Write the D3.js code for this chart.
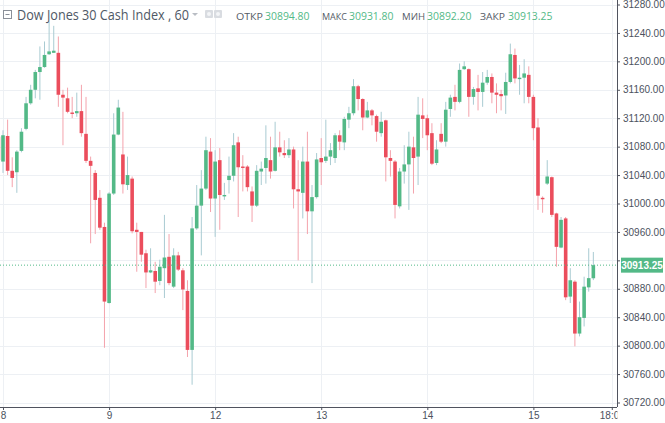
<!DOCTYPE html>
<html>
<head>
<meta charset="utf-8">
<script src="https://cdn.jsdelivr.net/npm/d3@7/dist/d3.min.js"></script>
<style>
html,body{margin:0;padding:0;background:#fff;}
svg{display:block;}
</style>
</head>
<body>
<svg id="chart" width="665" height="423"></svg>
<script>
// ---- data (hourly candles, index 0 is the partially visible first bar) ----
const openV = [
31094,31059,31095,31046,31044,31074,31105,31141,31160,31185,
31192,31210,31212,31212,31153,31148,31128,31127,31130,31098,
31060,31043,31008,30967,30860,31014,31097,31069,31026,31035,
30963,30960,30930,30903,30905,30891,30909,30925,30883,30927,
30906,30877,30794,30965,30997,31021,31073,31007,31061,31010,
31033,31039,31086,31052,31052,31017,30997,31045,31050,31061,
31046,31079,31071,31068,31076,31020,31015,31059,30989,31009,
31064,31060,31066,31064,31096,31086,31118,31127,31165,31147,
31121,31131,31123,31099,31117,31064,31059,30996,31045,31055,
31079,31066,31124,31120,31099,31057,31098,31087,31133,31150,
31143,31189,31189,31150,31162,31157,31170,31178,31156,31154,
31152,31171,31209,31175,31177,31181,31150,31107,31008,31028,
31037,30986,30938,30979,30869,30890,30817,30839,30882,30894.80
];
const highV = [
31103,31103,31118,31065,31075,31106,31150,31167,31188,31221,
31228,31256,31250,31235,31160,31163,31150,31156,31167,31150,
31066,31047,31019,30973,31016,31127,31146,31129,31066,31038,
30973,30960,30935,30937,30918,30921,30984,30957,30937,30932,
30909,30892,30981,31026,31047,31094,31092,31075,31078,31029,
31066,31099,31094,31068,31054,31024,31054,31059,31110,31094,
31115,31101,31089,31092,31080,31061,31080,31101,31026,31071,
31092,31118,31085,31099,31103,31122,31136,31175,31167,31148,
31143,31133,31125,31129,31118,31075,31061,31050,31082,31101,
31094,31150,31148,31125,31113,31089,31113,31143,31153,31167,
31197,31200,31190,31164,31181,31185,31188,31183,31169,31160,
31184,31225,31218,31195,31203,31193,31153,31120,31010,31061,
31038,30987,30981,30981,30909,30892,30862,30897,30937,30931.80
];
const lowV = [
31050,31043,31040,31023,31015,31072,31103,31139,31148,31146,
31191,31209,31212,31136,31082,31127,31120,31122,31094,31057,
30944,30957,30963,30797,30859,31012,31096,31014,31019,30958,
30904,30918,30881,30902,30874,30885,30867,30885,30881,30905,
30850,30784,30745,30963,30927,31019,30988,30953,30963,31005,
31014,31031,30981,31017,31017,30974,30995,31026,31028,31035,
31045,31066,31064,31064,30993,30920,30979,30957,30888,31007,
31026,31057,31054,31057,31075,31075,31106,31124,31131,31103,
31120,31110,31087,31094,31031,31038,30979,30993,31028,30991,
31014,31026,31092,31075,31054,31054,31085,31080,31122,31131,
31141,31188,31122,31139,31131,31136,31167,31141,31127,31131,
31126,31169,31169,31153,31141,31141,31089,30991,30987,31026,
30981,30911,30937,30864,30860,30799,30813,30827,30876,30892.20
];
const closeV = [
31061,31096,31046,31036,31073,31101,31141,31160,31185,31192,
31209,31214,31215,31153,31149,31129,31126,31130,31099,31060,
31053,31005,30966,30862,31014,31097,31135,31027,31040,30961,
30960,30928,30903,30906,30890,30911,30924,30888,30927,30907,
30879,30794,30965,30997,31021,31075,31007,31059,31012,31012,
31039,31082,31051,31050,31023,30997,31046,31049,31064,31045,
31079,31072,31068,31076,31020,31017,31059,30989,31009,31062,
31058,31066,31075,31096,31087,31119,31127,31165,31147,31121,
31131,31124,31101,31115,31065,31060,30998,31045,31055,31080,
31064,31125,31119,31096,31056,31076,31087,31132,31149,31143,
31188,31193,31150,31161,31157,31170,31178,31156,31153,31151,
31171,31210,31176,31177,31183,31150,31106,31011,31006,31038,
30984,30939,30977,30868,30892,30817,30840,30883,30895,30913.25
];
const dayLabels = ["8","9","12","13","14","15","18:00"];
const dayIndex  = [1,24,47,70,93,116,133];
const priceTicks = [30720,30760,30800,30840,30880,30920,30960,31000,31040,31080,31120,31160,31200,31240,31280];
const headerTitle = "Dow Jones 30 Cash Index , 60";
const headerLabels = ["ОТКР","МАКС","МИН","ЗАКР"];
const headerValues = ["30894.80","30931.80","30892.20","30913.25"];
const lastPrice = 30913.25;

// ---- layout ----
const W = 665, H = 423;
const plotRight = 617, plotBottom = 407;
const UP = "#53b987", DOWN = "#eb4d5c";
const UPWICK = "#a9cbd2", DOWNWICK = "#f4a3ac";
const GRID = "#edf0f4", AXIS = "#50535e", TXT = "#4c525e";
const FONT = "Arial, 'Liberation Sans', sans-serif";

const candles = openV.map((o,i)=>({i, o, h:highV[i], l:lowV[i], c:closeV[i]}));

const x = d3.scaleLinear().domain([0.349, 134.13]).range([0, plotRight]);
const y = d3.scaleLinear().domain([30720, 31280]).range([402.5, 4.5]);

const svg = d3.select("#chart");
svg.append("rect").attr("width",W).attr("height",H).attr("fill","#fff");

const defs = svg.append("defs");
defs.append("clipPath").attr("id","plotclip")
  .append("rect").attr("x",0).attr("y",0).attr("width",plotRight).attr("height",plotBottom);

// grid
const grid = svg.append("g").attr("clip-path","url(#plotclip)");
grid.selectAll("line.h").data(priceTicks).join("line")
  .attr("x1",0).attr("x2",plotRight)
  .attr("y1",d=>Math.round(y(d))+0.5).attr("y2",d=>Math.round(y(d))+0.5)
  .attr("stroke",GRID).attr("stroke-width",1);
grid.selectAll("line.v").data(dayIndex).join("line")
  .attr("y1",0).attr("y2",plotBottom)
  .attr("x1",d=>Math.round(x(d))+0.5).attr("x2",d=>Math.round(x(d))+0.5)
  .attr("stroke",GRID).attr("stroke-width",1);

// candles
const plot = svg.append("g").attr("clip-path","url(#plotclip)");
const bw = 3.6;
plot.selectAll("line.wick").data(candles).join("line")
  .attr("x1",d=>x(d.i)).attr("x2",d=>x(d.i))
  .attr("y1",d=>y(d.h)).attr("y2",d=>y(d.l))
  .attr("stroke",d=>d.c>=d.o?UPWICK:DOWNWICK).attr("stroke-width",1);
plot.selectAll("rect.body").data(candles).join("rect")
  .attr("x",d=>x(d.i)-bw/2).attr("width",bw)
  .attr("y",d=>y(Math.max(d.o,d.c)))
  .attr("height",d=>Math.max(1.2, Math.abs(y(d.o)-y(d.c))))
  .attr("fill",d=>d.c>=d.o?UP:DOWN);

// last price dotted line
plot.append("line")
  .attr("x1",0).attr("x2",plotRight)
  .attr("y1",y(lastPrice)).attr("y2",y(lastPrice))
  .attr("stroke",UP).attr("stroke-width",1).attr("stroke-dasharray","1,2");

// right axis
const yAxis = d3.axisRight(y).tickValues(priceTicks).tickSize(3).tickPadding(3)
  .tickFormat(d=>d3.format(".2f")(d));
const ya = svg.append("g").attr("transform",`translate(${plotRight},0)`).call(yAxis);
ya.select(".domain").attr("d",`M0.5,0V${plotBottom}`).attr("stroke",AXIS);
ya.selectAll(".tick line").attr("stroke",AXIS);
ya.selectAll(".tick text").attr("fill",TXT).style("font-family",FONT).style("font-size","10px");
// the label under the current-price box is hidden by it
ya.selectAll(".tick").filter(d=>Math.abs(y(d)-y(lastPrice))<10).select("text").remove();

// bottom axis
const xAxis = d3.axisBottom(x).tickValues(dayIndex).tickSize(3).tickPadding(2)
  .tickFormat((d,k)=>dayLabels[k]);
const xa = svg.append("g").attr("transform",`translate(0,${plotBottom})`).call(xAxis);
xa.select(".domain").attr("d",`M0,0.5H${plotRight}`).attr("stroke",AXIS);
xa.selectAll(".tick line").attr("stroke",AXIS);
xa.selectAll(".tick text").attr("fill",TXT).style("font-family",FONT).style("font-size","10px");
const lastTick = xa.selectAll(".tick").filter((d,k)=>k===dayIndex.length-1);
const lastX = x(dayIndex[dayIndex.length-1]);
defs.append("clipPath").attr("id","lastclip").append("rect")
  .attr("x",-40).attr("y",0).attr("width",40+plotRight-lastX).attr("height",20);
lastTick.select("text").attr("clip-path","url(#lastclip)");

// price label box
const pl = svg.append("g");
pl.append("rect").attr("x",plotRight+4).attr("y",y(lastPrice)-7.5).attr("width",42).attr("height",15).attr("fill",UP);
pl.append("text").attr("x",plotRight+25).attr("y",y(lastPrice)+3.6).attr("text-anchor","middle")
  .attr("fill","#fff").style("font-family",FONT).style("font-size","10px").style("font-weight","bold")
  .text(d3.format(".2f")(lastPrice));

// header
const hd = svg.append("g").style("font-family","'Open Sans', 'DejaVu Sans', sans-serif");
hd.append("rect").attr("x",3.5).attr("y",10.5).attr("width",8).attr("height",8).attr("fill","none").attr("stroke","#8a8f98").attr("stroke-width",1);
hd.append("line").attr("x1",5.5).attr("x2",9.5).attr("y1",14.5).attr("y2",14.5).attr("stroke","#8a8f98");
hd.append("text").attr("x",17).attr("y",20).attr("fill","#4f5966").style("font-size","14px")
  .attr("textLength",172).attr("lengthAdjust","spacingAndGlyphs").text(headerTitle);
hd.append("path").attr("d","M192,13 L198,13 L195,16 Z").attr("fill","#b9bdc4");
[205,214].forEach((px,k)=>{
  hd.append("rect").attr("x",px).attr("y",10).attr("width",8).attr("height",8).attr("rx",1).attr("fill","#d9dce1");
  hd.append("circle").attr("cx",px+4).attr("cy",14).attr("r",2).attr("fill","#f4f5f7");
});
const labX = [236,322,402,480];
const labW = [27,25,23,25];
const valX = [265,349,427,508];
headerLabels.forEach((t,k)=>{
  hd.append("text").attr("x",labX[k]).attr("y",19.5).attr("fill","#555b66").style("font-size","9.5px")
    .attr("textLength",labW[k]).attr("lengthAdjust","spacingAndGlyphs").text(t);
  hd.append("text").attr("x",valX[k]).attr("y",20).attr("fill",UP).style("font-size","11px")
    .attr("textLength",44.5).attr("lengthAdjust","spacingAndGlyphs").text(headerValues[k]);
});
</script>
</body>
</html>
